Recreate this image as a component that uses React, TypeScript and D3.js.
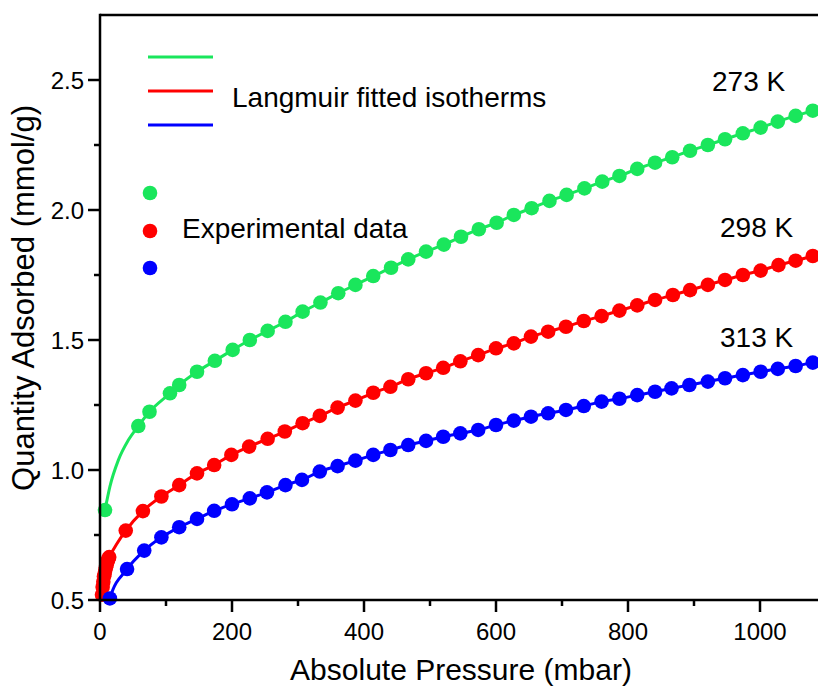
import React from "react";
import * as d3 from "d3";

// CO2 adsorption isotherms: pressure (mbar) vs quantity adsorbed (mmol/g)
const pressure273 = [7.6, 58, 75, 106, 120, 147, 174, 201, 227, 254, 281, 307, 334, 361, 387, 414, 441, 467, 494, 521, 547, 574, 601, 627, 654, 681, 707, 734, 761, 787, 814, 841, 867, 894, 921, 947, 974, 1001, 1027, 1054, 1080];
const quantity273 = [0.846, 1.169, 1.224, 1.295, 1.327, 1.378, 1.42, 1.462, 1.5, 1.535, 1.57, 1.609, 1.644, 1.68, 1.712, 1.746, 1.778, 1.81, 1.84, 1.867, 1.897, 1.926, 1.951, 1.981, 2.007, 2.035, 2.058, 2.083, 2.109, 2.131, 2.158, 2.182, 2.203, 2.228, 2.25, 2.272, 2.295, 2.317, 2.34, 2.362, 2.382];

const pressure298 = [3, 4, 5, 6, 7, 8, 9, 10, 11, 12, 13, 14, 39, 65, 93, 120, 147, 173, 199, 226, 254, 280, 307, 333, 360, 387, 414, 440, 467, 494, 520, 546, 573, 600, 627, 653, 679, 706, 733, 760, 787, 814, 841, 868, 894, 921, 947, 974, 1001, 1028, 1054, 1080];
const quantity298 = [0.52, 0.55, 0.57, 0.59, 0.6, 0.615, 0.625, 0.635, 0.645, 0.652, 0.66, 0.665, 0.767, 0.842, 0.898, 0.942, 0.987, 1.019, 1.058, 1.09, 1.12, 1.148, 1.18, 1.208, 1.24, 1.267, 1.297, 1.32, 1.349, 1.372, 1.393, 1.418, 1.442, 1.468, 1.487, 1.513, 1.532, 1.551, 1.573, 1.592, 1.613, 1.633, 1.654, 1.673, 1.692, 1.712, 1.731, 1.75, 1.767, 1.788, 1.805, 1.823];

const pressure313 = [15, 41, 67, 93, 120, 147, 173, 200, 227, 253, 281, 306, 333, 360, 387, 414, 440, 467, 494, 520, 546, 573, 600, 627, 653, 679, 706, 733, 760, 787, 814, 841, 866, 893, 921, 947, 974, 1001, 1027, 1054, 1080];
const quantity313 = [0.506, 0.619, 0.69, 0.741, 0.78, 0.812, 0.843, 0.868, 0.891, 0.914, 0.942, 0.962, 0.994, 1.015, 1.036, 1.058, 1.077, 1.096, 1.112, 1.128, 1.141, 1.154, 1.173, 1.19, 1.205, 1.218, 1.231, 1.246, 1.263, 1.274, 1.288, 1.301, 1.314, 1.327, 1.34, 1.353, 1.365, 1.378, 1.389, 1.4, 1.413];

// Langmuir fit, low-pressure part (the rest of each fit follows the measured points)
const fitLowPressure273 = [7.6, 15, 27.8, 43, 58];
const fitLowQuantity273 = [0.846, 0.936, 1.038, 1.115, 1.169];
const fitLowPressure298 = [0.3, 1.5, 3];
const fitLowQuantity298 = [0.3, 0.5, 0.52];
const fitLowPressure313 = [8, 15];
const fitLowQuantity313 = [0.4, 0.506];

const seriesLabels = ["273 K", "298 K", "313 K"];
const seriesColors = ["#1ae65c", "#ff0000", "#0000ff"];

const xTicks = [0, 200, 400, 600, 800, 1000];
const xMinorTicks = [100, 300, 500, 700, 900];
const yTicks = [0.5, 1.0, 1.5, 2.0, 2.5];
const yMinorTicks = [0.75, 1.25, 1.75, 2.25];

const W = 818;
const H = 689;
const left = 100;
const bottom = 600;
const top = 15;
const FONT = "'Liberation Sans', Arial, Helvetica, sans-serif";

type Pt = { p: number; q: number };

function zip(ps: number[], qs: number[]): Pt[] {
  return ps.map((p, i) => ({ p, q: qs[i] }));
}

export default function App() {
  const x = d3.scaleLinear().domain([0, 1100]).range([left, left + 1100 * 0.66]);
  const y = d3.scaleLinear().domain([0.5, 2.75]).range([bottom, top]);
  const right = x.range()[1];

  const data = [
    zip(pressure273, quantity273),
    zip(pressure298, quantity298),
    zip(pressure313, quantity313),
  ];
  const fitLow = [
    zip(fitLowPressure273, fitLowQuantity273),
    zip(fitLowPressure298, fitLowQuantity298),
    zip(fitLowPressure313, fitLowQuantity313),
  ];
  const fits = data.map((d, i) => {
    const lowMax = d3.max(fitLow[i], (v) => v.p) as number;
    return [...fitLow[i], ...d.filter((v) => v.p > lowMax)].sort((a, b) => a.p - b.p);
  });

  const line = d3
    .line<Pt>()
    .x((d) => x(d.p))
    .y((d) => y(d.q))
    .curve(d3.curveMonotoneX);

  const labelPos = [
    { x: 712, y: 91 },
    { x: 720, y: 237 },
    { x: 720, y: 347 },
  ];
  const legendLineY = [57, 91, 125];
  const legendDotY = [193, 231, 268];

  return (
    <svg
      width={W}
      height={H}
      style={{ position: "absolute", left: 0, top: 0, background: "#fff" }}
      fontFamily={FONT}
    >
      <defs>
        <clipPath id="plotArea">
          <rect x={left} y={top} width={right - left} height={bottom - top} />
        </clipPath>
      </defs>

      {/* fitted isotherms */}
      <g clipPath="url(#plotArea)">
        {fits.map((f, i) => (
          <path key={i} d={line(f) || ""} fill="none" stroke={seriesColors[i]} strokeWidth={3} />
        ))}
      </g>

      {/* measured points */}
      {data.map((d, i) => (
        <g key={i} fill={seriesColors[i]}>
          {d
            .filter((v) => v.q >= 0.5)
            .map((v, j) => (
              <circle key={j} cx={x(v.p)} cy={y(v.q)} r={7.3} />
            ))}
        </g>
      ))}

      {/* axes frame */}
      <line x1={left} x2={W} y1={top} y2={top} stroke="#000" strokeWidth={2.5} />
      <line x1={left} x2={W} y1={bottom} y2={bottom} stroke="#000" strokeWidth={2.5} />
      <line x1={left} x2={left} y1={top - 1.25} y2={bottom + 1.25} stroke="#000" strokeWidth={2.5} />

      {/* x ticks */}
      {xTicks.map((t) => (
        <g key={t}>
          <line x1={x(t)} x2={x(t)} y1={bottom} y2={bottom + 12} stroke="#000" strokeWidth={2.5} />
          <text x={x(t)} y={640} textAnchor="middle" fontSize={24} fill="#000">
            {t}
          </text>
        </g>
      ))}
      {xMinorTicks.map((t) => (
        <line key={t} x1={x(t)} x2={x(t)} y1={bottom} y2={bottom + 6} stroke="#000" strokeWidth={2.5} />
      ))}

      {/* y ticks */}
      {yTicks.map((t) => (
        <g key={t}>
          <line x1={left - 12} x2={left} y1={y(t)} y2={y(t)} stroke="#000" strokeWidth={2.5} />
          <text x={84} y={y(t) + 8.5} textAnchor="end" fontSize={24} fill="#000">
            {t.toFixed(1)}
          </text>
        </g>
      ))}
      {yMinorTicks.map((t) => (
        <line key={t} x1={left - 6} x2={left} y1={y(t)} y2={y(t)} stroke="#000" strokeWidth={2.5} />
      ))}

      {/* axis titles */}
      <text x={461} y={680} textAnchor="middle" fontSize={30} fill="#000">
        Absolute Pressure (mbar)
      </text>
      <text
        transform="translate(34, 298) rotate(-90)"
        textAnchor="middle"
        fontSize={31}
        fill="#000"
      >
        Quantity Adsorbed (mmol/g)
      </text>

      {/* series labels */}
      {seriesLabels.map((s, i) => (
        <text key={s} x={labelPos[i].x} y={labelPos[i].y} fontSize={28} fill="#000">
          {s}
        </text>
      ))}

      {/* legend */}
      {seriesColors.map((c, i) => (
        <line key={"l" + i} x1={148} x2={213} y1={legendLineY[i]} y2={legendLineY[i]} stroke={c} strokeWidth={3} />
      ))}
      <text x={232} y={107} fontSize={28} fill="#000">
        Langmuir fitted isotherms
      </text>
      {seriesColors.map((c, i) => (
        <circle key={"d" + i} cx={150} cy={legendDotY[i]} r={7.3} fill={c} />
      ))}
      <text x={182} y={238} fontSize={28} fill="#000">
        Experimental data
      </text>
    </svg>
  );
}
